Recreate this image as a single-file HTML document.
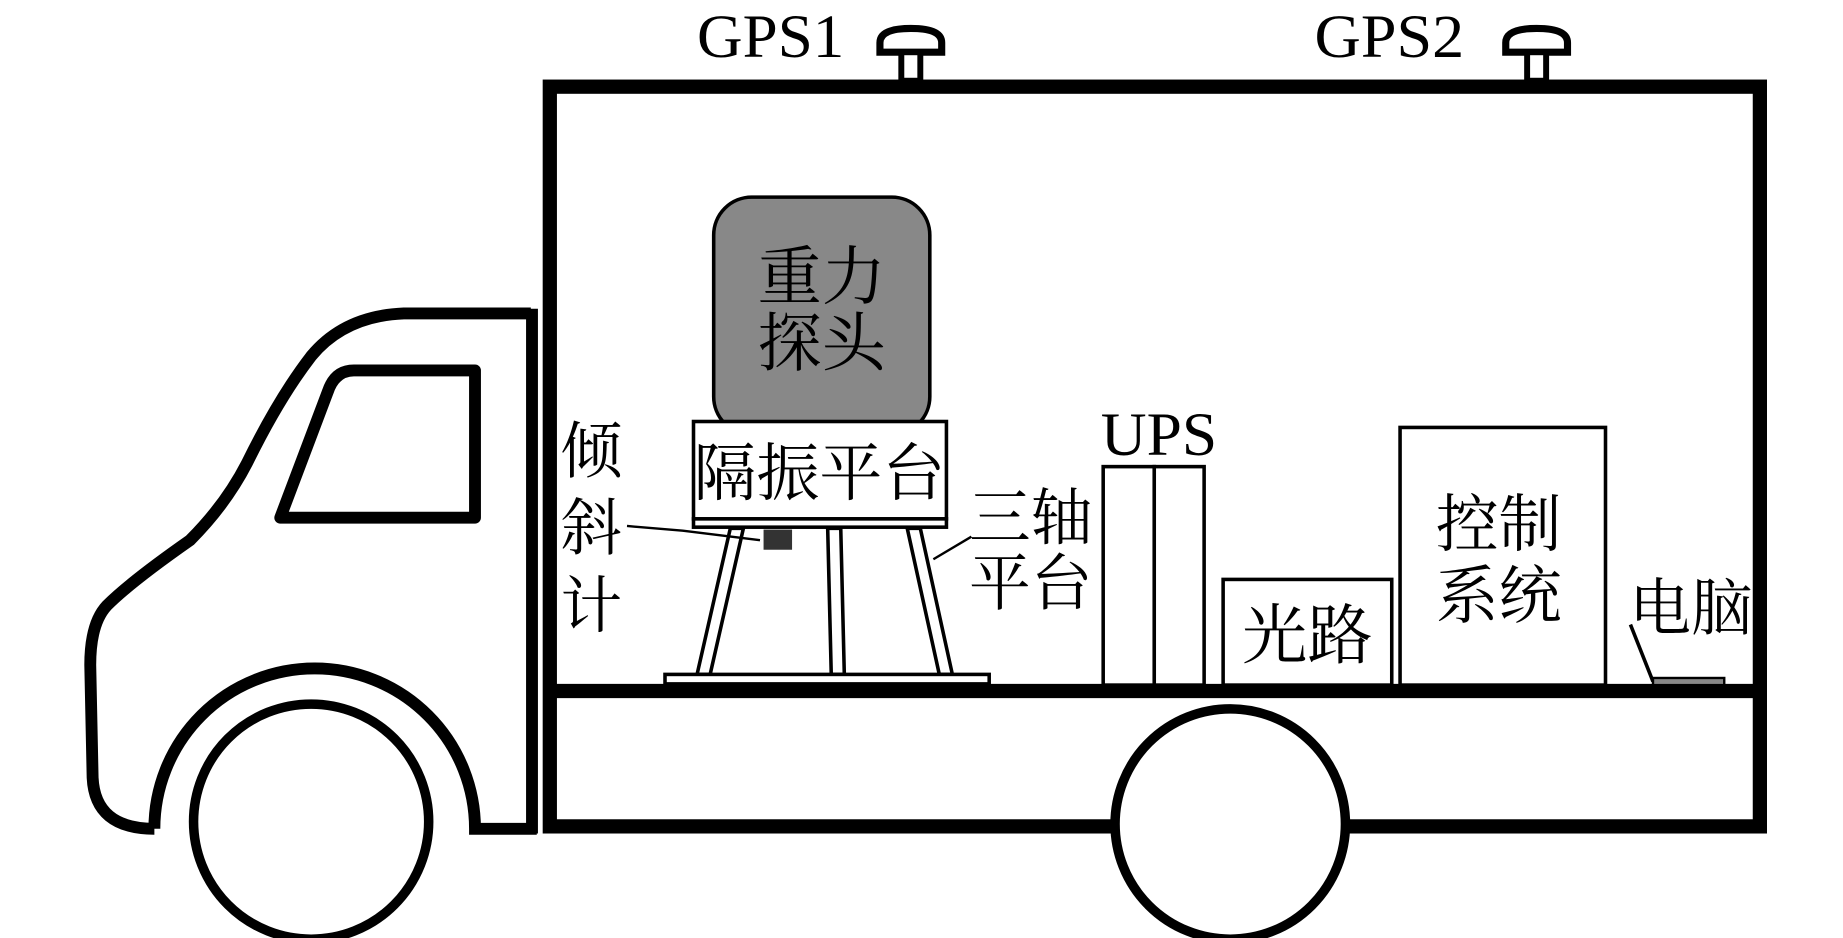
<!DOCTYPE html>
<html><head><meta charset="utf-8"><style>
html,body{margin:0;padding:0;background:#fff;}
svg{display:block;}
text{font-family:"Liberation Serif","Noto Serif CJK SC","Noto Sans CJK SC",serif;fill:#000;}
</style></head><body>
<svg width="1843" height="938" viewBox="0 0 1552 790" preserveAspectRatio="none" xmlns="http://www.w3.org/2000/svg">
<rect width="1552" height="790" fill="#fff"/>
<!-- cab -->
<path d="M447 264 L340 264 Q290 266 262 300 Q235 335 208 390 Q190 425 160 455 Q110 490 90 510 Q76 525 76 560 L78 655 Q80 698 130 698" fill="none" stroke="#000" stroke-width="10" stroke-linejoin="round"/>
<path d="M130 698 A132 132 0 0 1 400 698 L452 698" fill="none" stroke="#000" stroke-width="10"/>
<line x1="448" y1="260" x2="448" y2="702" stroke="#000" stroke-width="10"/>
<path d="M298 312 L400 312 L400 436 L236 436 L276 330 Q282 312 298 312 Z" fill="none" stroke="#000" stroke-width="10" stroke-linejoin="round"/>
<!-- cargo box -->
<rect x="463" y="73" width="1019" height="623" fill="none" stroke="#000" stroke-width="12"/>
<line x1="463" y1="582" x2="1482" y2="582" stroke="#000" stroke-width="12"/>
<!-- wheels -->
<circle cx="262" cy="692" r="99" fill="#fff" stroke="#000" stroke-width="8"/>
<circle cx="1036" cy="694" r="97" fill="#fff" stroke="#000" stroke-width="8"/>
<!-- GPS -->
<path d="M741 44 L741 36 Q741 24 767 24 Q793 24 793 36 L793 44 Z" fill="#fff" stroke="#000" stroke-width="6"/>
<rect x="759" y="44" width="16" height="24" fill="#fff" stroke="#000" stroke-width="5"/>
<path d="M1268 44 L1268 36 Q1268 24 1294 24 Q1320 24 1320 36 L1320 44 Z" fill="#fff" stroke="#000" stroke-width="6"/>
<rect x="1286" y="44" width="16" height="24" fill="#fff" stroke="#000" stroke-width="5"/>
<text x="587" y="48" font-size="52" textLength="124" lengthAdjust="spacingAndGlyphs">GPS1</text>
<text x="1107" y="48" font-size="52" textLength="126" lengthAdjust="spacingAndGlyphs">GPS2</text>
<!-- probe -->
<rect x="601" y="166" width="182" height="200" rx="32" fill="#888" stroke="#000" stroke-width="3"/>
<text x="692" y="252" font-size="54" text-anchor="middle">重力</text>
<text x="692" y="308" font-size="54" text-anchor="middle">探头</text>
<rect x="584" y="355" width="213" height="82" fill="#fff" stroke="#000" stroke-width="3"/>
<rect x="584" y="437" width="213" height="7" fill="#fff" stroke="#000" stroke-width="3"/>
<text x="690" y="417" font-size="53" text-anchor="middle">隔振平台</text>
<!-- legs -->
<g stroke="#000" stroke-width="3" fill="#fff">
<polygon points="615,445 626,445 598,568 587,568"/>
<polygon points="697,445 708,445 711,568 700,568"/>
<polygon points="764,445 775,445 802,568 791,568"/>
</g>
<rect x="560" y="568" width="273" height="8" fill="#fff" stroke="#000" stroke-width="3"/>
<rect x="643" y="446" width="24" height="17" fill="#333"/>
<polyline points="528,443 575,447 640,455" fill="none" stroke="#000" stroke-width="2"/>
<line x1="818" y1="452" x2="786" y2="471" stroke="#000" stroke-width="2"/>
<text x="498" y="398" font-size="52" text-anchor="middle">倾</text>
<text x="498" y="463" font-size="52" text-anchor="middle">斜</text>
<text x="498" y="528" font-size="52" text-anchor="middle">计</text>
<text x="816" y="454" font-size="52">三轴</text>
<text x="816" y="509" font-size="52">平台</text>
<!-- UPS -->
<text x="927" y="383" font-size="52" textLength="98" lengthAdjust="spacingAndGlyphs">UPS</text>
<rect x="929" y="393" width="43" height="184" fill="#fff" stroke="#000" stroke-width="3"/>
<rect x="972" y="393" width="42" height="184" fill="#fff" stroke="#000" stroke-width="3"/>
<!-- 光路 -->
<rect x="1030" y="488" width="142" height="89" fill="#fff" stroke="#000" stroke-width="3"/>
<text x="1101" y="554" font-size="55" text-anchor="middle">光路</text>
<!-- 控制系统 -->
<rect x="1179" y="360" width="173" height="217" fill="#fff" stroke="#000" stroke-width="3"/>
<text x="1262" y="460" font-size="53" text-anchor="middle">控制</text>
<text x="1262" y="520" font-size="53" text-anchor="middle">系统</text>
<!-- 电脑 -->
<text x="1372" y="530" font-size="52">电脑</text>
<line x1="1373" y1="526" x2="1392" y2="574" stroke="#000" stroke-width="3"/>
<rect x="1392" y="571" width="60" height="6" fill="#888" stroke="#000" stroke-width="2"/>
</svg>
</body></html>
